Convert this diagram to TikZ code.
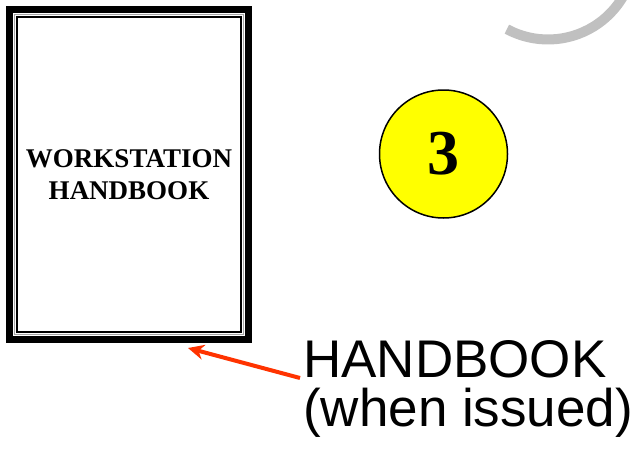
\documentclass[tikz,border=0pt]{standalone}
\usepackage{fontspec}
\setmainfont{Liberation Serif}
\newfontfamily\arialfont{Liberation Sans}
\usetikzlibrary{arrows.meta,positioning,calc}
\definecolor{pointred}{HTML}{FF3300}
\definecolor{arcgray}{HTML}{C0C0C0}
\definecolor{badgeyellow}{HTML}{FFFF00}
\begin{document}
\begin{tikzpicture}[x=1pt,y=1pt,
    cover/.style={draw,line width=7pt,fill=white,outer sep=0pt,inner sep=0pt,
        minimum width=239pt,minimum height=330pt,align=center,
        font=\fontsize{27}{32}\selectfont\bfseries},
    badge/.style={circle,draw,line width=1.5pt,fill=badgeyellow,inner sep=0pt,
        minimum size=128pt,font=\fontsize{64}{64}\selectfont\bfseries},
    callout/.style={inner sep=0pt,anchor=base west,font=\fontsize{53}{53}\selectfont\arialfont},
    pointer/.style={pointred,line width=4pt,-{Stealth[length=16pt,width=15pt]}}]
    \useasboundingbox (0,0) rectangle (637,451);
    % grey arc at the top right
    \begin{scope}
        \clip (0,0) rectangle (637,451);
        \draw[arcgray,line width=10pt] (548,498.5) ++ (241.8:87) arc (241.8:340:87);
    \end{scope}
    % handbook cover
    \node[cover] (book) at (129,276.5) {WORKSTATION\\HANDBOOK};
    \draw[gray!70,line width=1pt] ([shift={(4.75,-4.75)}]book.north west) rectangle ([shift={(-4.75,4.75)}]book.south east);
    \draw[line width=1.8pt] ([shift={(7.25,-7.25)}]book.north west) rectangle ([shift={(-7.25,7.25)}]book.south east);
    % step number
    \node[badge] (num) at (443.5,297) {3};
    % label
    \node[callout] (hb) at (303,74) {HANDBOOK};
    \node[callout] (issued) at (303,25) {(when issued)};
    \coordinate (tip) at ([shift={(59,-8.5)}]book.south);
    \draw[pointer] ([shift={(-3,-1)}]hb.base west) -- (tip);
\end{tikzpicture}
\end{document}
